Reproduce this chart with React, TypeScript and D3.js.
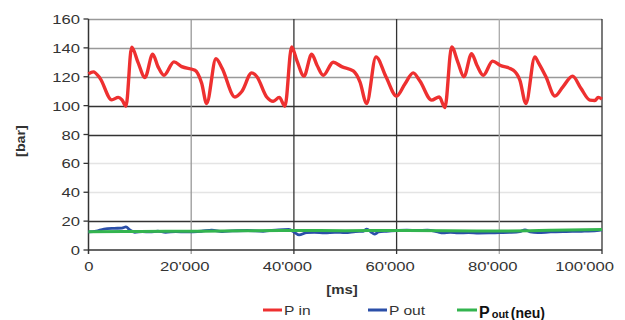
import React, { useEffect, useRef } from 'react';
import * as d3 from 'd3';

// P in [bar] over time [ms]
const pInTime = [
  0, 935, 2240, 4520, 5800, 6520, 7300, 8410, 9640, 11000, 12500, 13530, 14700, 16650, 18150, 20740,
  22040, 23010, 24820, 26000, 28520, 29890, 31780, 32800, 34700, 35980, 37150, 38260, 39560, 40600,
  41960, 43460, 44500, 45720, 47660, 49300, 51560, 52860, 54170, 55980, 57930, 60000, 61620, 63240,
  64540, 66820, 68300, 69410, 70720, 71940, 73110, 74610, 75640, 76870, 78700, 80120, 82710, 84010,
  85180, 86930, 87580, 89080, 90830, 92390, 94270, 95890, 97640, 98610, 99260, 100000,
];
const pInValues = [
  122, 123.4, 119, 104, 105.7, 104, 99.6, 140.5, 130, 119.5, 135.6, 127, 121, 130.3, 127, 124.5,
  115.5, 101.5, 132.5, 126, 106, 110, 122.7, 120, 106, 103, 105.7, 99.6, 140.7, 131,
  120.4, 135.6, 128, 121, 130, 127, 124, 116.5, 101.5, 133.8, 120, 106.6, 115, 122.7,
  117, 103.8, 106, 98.7, 140.7, 130, 120, 136, 128, 121, 130.8, 128, 124.6, 117.6,
  101.5, 133.8, 130, 120, 106.6, 113, 120.4, 112, 103.8, 103.5, 105.7, 104.5,
];

// P out [bar]
const pOutTime = [
  0, 1500, 3000, 5000, 6500, 7300, 8000, 9000, 10500, 12000, 13500, 15000, 17000, 19000, 22000, 24000,
  26000, 28000, 31000, 34000, 37000, 39000, 40200, 41000, 42500, 44000, 46000, 48000, 50000, 52000,
  53500, 54200, 55000, 55700, 56500, 58000, 60000, 62000, 64000, 66000, 68000, 69000, 70500, 72000,
  74000, 76000, 78000, 80000, 82000, 84000, 85000, 86000, 87500, 90000, 93000, 96000, 99000, 100000,
];
const pOutValues = [
  12.5, 13, 14.5, 15, 15.2, 16, 14, 12.3, 12.8, 12.5, 13, 12.3, 12.8, 12.5, 13, 13.8,
  12.8, 13.2, 13.5, 13, 14, 14.2, 12, 10.5, 12, 12.2, 11.8, 12.3, 12, 12.8,
  13, 14.5, 12.5, 11, 12.5, 13, 13.5, 13.8, 13.5, 13.8, 12.5, 11.8, 12.2, 11.8,
  12, 11.7, 11.8, 12, 12.2, 12.8, 14, 12.5, 12, 12.5, 12.8, 13, 13.5, 14,
];

// P out (neu) [bar]
const pNeuTime = [0, 10000, 20000, 30000, 40000, 50000, 60000, 70000, 80000, 90000, 100000];
const pNeuValues = [12.6, 12.9, 13, 13.3, 13.5, 13.4, 13.5, 13.3, 13.2, 13.6, 14.2];

const yTicks = [0, 20, 40, 60, 80, 100, 120, 140, 160];
const xTicks = [0, 20000, 40000, 60000, 80000, 100000];
const xTickLabels = ['0', "20'000", "40'000", "60'000", "80'000", "100'000"];

const hGridColor: Record<number, string> = {
  20: '#333', 40: '#e4e4e4', 60: '#e4e4e4', 80: '#333', 100: '#333', 120: '#999', 140: '#999', 160: '#999',
};
const vGridColor: Record<number, string> = { 20000: '#999', 40000: '#333', 60000: '#333', 80000: '#aaa', 100000: '#333' };

const FONT = '"Liberation Sans", Arial, sans-serif';

const App: React.FC = () => {
  const svgRef = useRef<SVGSVGElement | null>(null);

  useEffect(() => {
    if (!svgRef.current) return;
    const svg = d3.select(svgRef.current);
    svg.selectAll('*').remove();

    const x = d3.scaleLinear().domain([0, 100000]).range([88.5, 602]);
    const y = d3.scaleLinear().domain([0, 160]).range([250, 19]);

    // grid
    const g = svg.append('g');
    yTicks.filter((t) => t > 0).forEach((t) => {
      g.append('line')
        .attr('x1', x(0)).attr('x2', x(100000))
        .attr('y1', Math.round(y(t)) + 0.5).attr('y2', Math.round(y(t)) + 0.5)
        .attr('stroke', hGridColor[t]).attr('stroke-width', 1.3);
    });
    xTicks.filter((t) => t > 0).forEach((t) => {
      g.append('line')
        .attr('x1', x(t)).attr('x2', x(t))
        .attr('y1', y(160)).attr('y2', y(0) + 4)
        .attr('stroke', vGridColor[t]).attr('stroke-width', 1.3);
    });

    // axes
    g.append('line').attr('x1', x(0)).attr('x2', x(0)).attr('y1', y(160)).attr('y2', y(0) + 4)
      .attr('stroke', '#333').attr('stroke-width', 1.5);
    g.append('line').attr('x1', x(0)).attr('x2', x(100000)).attr('y1', y(0)).attr('y2', y(0))
      .attr('stroke', '#333').attr('stroke-width', 1.5);
    yTicks.forEach((t) => {
      g.append('line').attr('x1', x(0) - 5).attr('x2', x(0))
        .attr('y1', y(t)).attr('y2', y(t)).attr('stroke', '#333').attr('stroke-width', 1.3);
    });

    // tick labels (stretched horizontally like the original)
    yTicks.forEach((t) => {
      svg.append('text')
        .attr('transform', `translate(80,${y(t) + 5}) scale(1.28,1)`)
        .attr('text-anchor', 'end')
        .attr('font-family', FONT).attr('font-size', 13).attr('fill', '#333')
        .text(String(t));
    });
    xTicks.forEach((t, i) => {
      const last = i === xTicks.length - 1;
      const px = i === 0 ? x(t) + 0.5 : last ? x(t) + 12 : x(t) - 6.5;
      svg.append('text')
        .attr('transform', `translate(${px},271) scale(1.28,1)`)
        .attr('text-anchor', last ? 'end' : 'middle')
        .attr('font-family', FONT).attr('font-size', 13).attr('fill', '#333')
        .text(xTickLabels[i]);
    });

    // axis titles
    svg.append('text')
      .attr('transform', 'translate(342,294) scale(1.15,1)')
      .attr('text-anchor', 'middle')
      .attr('font-family', FONT).attr('font-size', 13).attr('font-weight', 'bold').attr('fill', '#333')
      .text('[ms]');
    svg.append('text')
      .attr('transform', 'translate(25,141) rotate(-90) scale(1.1,1)')
      .attr('text-anchor', 'middle')
      .attr('font-family', FONT).attr('font-size', 13).attr('font-weight', 'bold').attr('fill', '#333')
      .text('[bar]');

    // series
    const line = d3
      .line<[number, number]>()
      .x((d) => x(d[0]))
      .y((d) => y(d[1]))
      .curve(d3.curveMonotoneX);

    const outData = pOutTime.map((t, i) => [t, pOutValues[i]] as [number, number]);
    const neuData = pNeuTime.map((t, i) => [t, pNeuValues[i]] as [number, number]);
    const inData = pInTime.map((t, i) => [t, pInValues[i]] as [number, number]);

    svg.append('path').datum(outData)
      .attr('fill', 'none').attr('stroke', '#2b4fa8').attr('stroke-width', 2.8)
      .attr('stroke-linejoin', 'round').attr('d', line);
    svg.append('path').datum(neuData)
      .attr('fill', 'none').attr('stroke', '#33b44f').attr('stroke-width', 3)
      .attr('stroke-linejoin', 'round').attr('d', line);
    svg.append('path').datum(inData)
      .attr('fill', 'none').attr('stroke', '#ee3030').attr('stroke-width', 3.4)
      .attr('stroke-linejoin', 'round').attr('d', line);

    // legend
    const legend = [
      { x: 263, color: '#ee3030', label: 'P in' },
      { x: 368, color: '#2b4fa8', label: 'P out' },
    ];
    legend.forEach((l) => {
      svg.append('line').attr('x1', l.x).attr('x2', l.x + 19).attr('y1', 310).attr('y2', 310)
        .attr('stroke', l.color).attr('stroke-width', 3);
      svg.append('text')
        .attr('transform', `translate(${l.x + 21},315) scale(1.2,1)`)
        .attr('font-family', FONT).attr('font-size', 13).attr('fill', '#333')
        .text(l.label);
    });
    svg.append('line').attr('x1', 457).attr('x2', 477).attr('y1', 310).attr('y2', 310)
      .attr('stroke', '#33b44f').attr('stroke-width', 3);
    const neuText = svg.append('text')
      .attr('x', 479).attr('y', 318)
      .attr('font-family', FONT).attr('font-weight', 'bold').attr('fill', '#111');
    neuText.append('tspan').attr('font-size', 16).text('P');
    neuText.append('tspan').attr('font-size', 11).attr('dx', 2).text('out');
    neuText.append('tspan').attr('font-size', 14).attr('dx', 2).text('(neu)');
  }, []);

  return (
    <svg
      ref={svgRef}
      width={625}
      height={320}
      style={{ position: 'absolute', left: 0, top: 0, background: '#fff' }}
    />
  );
};

export default App;
